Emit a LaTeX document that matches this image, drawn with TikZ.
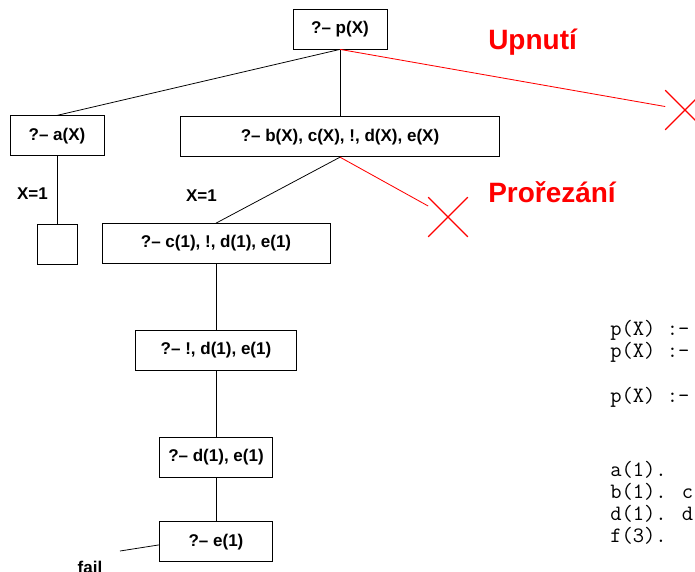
\documentclass[tikz,border=0pt]{standalone}
\usepackage{fontspec}
\setsansfont{Liberation Sans}
\usetikzlibrary{positioning, shapes.misc}

\begin{document}
\begin{tikzpicture}[
    goal/.style={
        draw, line width=0.55pt, minimum height=1.0cm, inner sep=2pt,
        font=\fontsize{12.1}{14}\selectfont\sffamily\bfseries
    },
    leaf/.style={draw, line width=0.55pt, minimum size=1.0cm},
    lbl/.style={font=\fontsize{12.1}{14}\selectfont\sffamily\bfseries, inner sep=2pt},
    branch/.style={line width=0.55pt},
    cutedge/.style={line width=0.6pt, red},
    cutmark/.style={
        cross out, draw=red, line width=0.9pt, minimum size=0.65cm,
        inner sep=0pt, outer sep=0.17cm
    },
    cutnote/.style={font=\fontsize{19.9}{24}\selectfont\sffamily\bfseries, text=red, anchor=base west, inner sep=0pt},
    prog/.style={font=\fontsize{15.6}{18}\selectfont\ttfamily, anchor=base west, inner sep=0pt}
]

\useasboundingbox (0,0) rectangle (17.375,-14.275);
\clip (0,0) rectangle (17.375,-14.275);

% =============================================
% GOAL TREE
% =============================================
\node[goal, minimum width=2.35cm] (p) at (8.5,-0.725) {?– p(X)};

\node[goal, minimum width=2.35cm, below=1.65cm of p, xshift=-7.075cm] (a) {?– a(X)};
\node[goal, minimum width=7.975cm, below=1.675cm of p] (b) {?– b(X), c(X), !, d(X), e(X)};

\node[leaf, below=1.7cm of a] (sq) {};
\node[goal, minimum width=5.7cm, below=1.65cm of b, xshift=-3.1cm] (c1) {?– c(1), !, d(1), e(1)};

\node[goal, minimum width=4.025cm, below=1.65cm of c1] (cut) {?– !, d(1), e(1)};
\node[goal, minimum width=2.825cm, below=1.65cm of cut] (d) {?– d(1), e(1)};
\node[goal, minimum width=2.825cm, below=1.1cm of d] (e) {?– e(1)};

\node[lbl, anchor=base] (fail) at (2.25,-14.33) {fail};
\coordinate (failend) at (3.0,-13.775);

% red crosses
\node[cutmark] (x1) at (17.125,-2.75) {};
\node[cutmark] (x2) at (11.2,-5.425) {};

\node[cutnote] (upnuti) at (12.2,-1.225) {Upnutí};
\node[cutnote] (prorez) at (12.2,-5.05) {Prořezání};

% connectors
\draw[branch] (p.south) -- (a.north);
\draw[branch] (p.south) -- (b.north);
\draw[cutedge] (p.south) -- (x1);

\draw[branch] (a.south) -- (sq.north) node[lbl, left=0.15cm, pos=0.55] {X=1};
\draw[branch] (b.south) -- (c1.north) node[lbl, left=1.2cm, pos=0.58] {X=1};
\draw[cutedge] (b.south) -- (x2);

\draw[branch] (c1.south) -- (cut.north);
\draw[branch] (cut.south) -- (d.north);
\draw[branch] (d.south) -- (e.north);
\draw[branch] ([yshift=-0.075cm]e.west) -- (failend);

% =============================================
% PROGRAM
% =============================================
\node[prog] (l1) at (15.25,-8.375) {p(X) :-};
\node[prog] (l2) at (15.25,-8.9375) {p(X) :-};
\node[prog] (l3) at (15.25,-10.05) {p(X) :-};
\node[prog] (l4) at (15.25,-11.9) {a(1).};
\node[prog] (l5) at (15.25,-12.45) {b(1). c};
\node[prog] (l6) at (15.25,-13.0) {d(1). d};
\node[prog] (l7) at (15.25,-13.55) {f(3).};

\end{tikzpicture}
\end{document}
